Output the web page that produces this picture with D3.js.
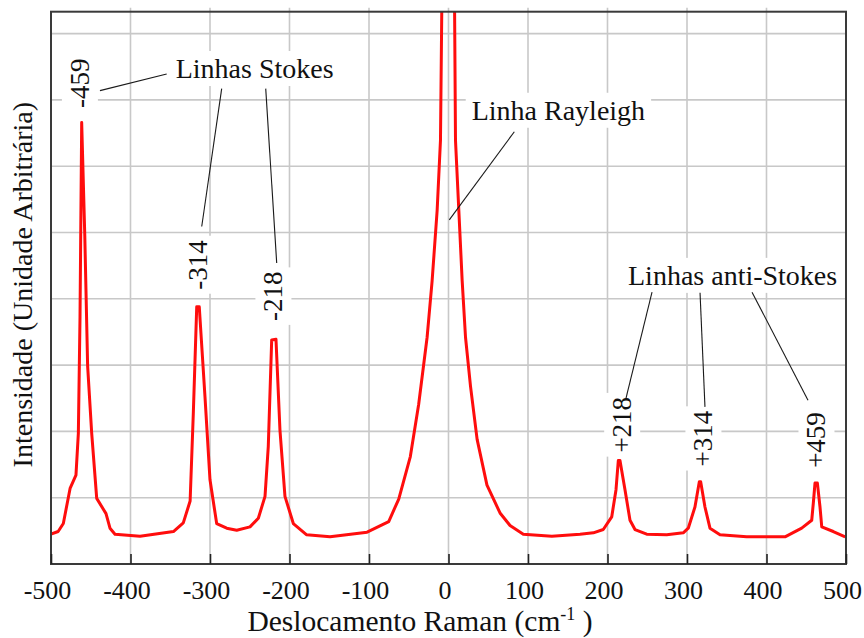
<!DOCTYPE html>
<html>
<head>
<meta charset="utf-8">
<script src="https://cdn.jsdelivr.net/npm/d3@7"></script>
<style>
  html, body { margin: 0; padding: 0; background: #ffffff; }
  svg { display: block; }
  svg text { font-family: "Liberation Serif", "Times New Roman", Tinos, "DejaVu Serif", serif; fill: #111; }
</style>
</head>
<body>
<svg id="chart" width="864" height="638"></svg>
<script>
// Raman spectrum: shift (cm^-1) and intensity (arbitrary units)
const shift = [
  -500, -491, -484.5, -476, -468.6, -465.6, -463.5, -461.4, -457.5, -453.9, -448.8, -442.5,
  -430.8, -425.8, -419.5, -388, -346, -333.6, -325, -321, -316.7, -313.5, -306.3, -300,
  -291.6, -279, -266.4, -249.7, -239.2, -230.8, -226.7, -222.4, -217, -212, -205.7, -195.2,
  -178.4, -149, -102.4, -75.2, -62.6, -48, -37.5, -26.9, -20.6, -14.3, -10.1, -7.5,
  0, 7, 8.8, 13, 17.2, 21.4, 27.7, 36, 48.4, 64.8, 77.4, 94.1,
  130, 165.4, 182.2, 194.7, 205.3, 210.7, 213.6, 215.7, 222, 228.3, 234.6, 249.3,
  274.5, 295.3, 301.6, 310, 315.5, 317.2, 322.6, 328.9, 341.5, 375, 423.3, 444.3,
  456.9, 458.9, 461, 464, 467.3, 469.5, 484, 499
];
const intensity = [
  0.45, 0.49, 0.61, 1.14, 1.34, 1.97, 3.73, 6.66, 4.95, 2.98, 1.97, 0.99,
  0.76, 0.54, 0.45, 0.42, 0.49, 0.62, 0.95, 2.27, 3.88, 3.88, 2.52, 1.27,
  0.61, 0.54, 0.51, 0.56, 0.69, 1.02, 1.77, 3.38, 3.39, 2.02, 1.02, 0.61,
  0.44, 0.41, 0.48, 0.64, 0.98, 1.62, 2.41, 3.42, 4.27, 5.33, 6.39, 9.5,
  14, 9.5, 6.39, 5.33, 4.27, 3.42, 2.68, 1.88, 1.19, 0.77, 0.58, 0.45,
  0.42, 0.45, 0.47, 0.52, 0.71, 1.12, 1.56, 1.56, 1.12, 0.66, 0.52, 0.45,
  0.44, 0.47, 0.54, 0.86, 1.24, 1.24, 0.86, 0.54, 0.44, 0.41, 0.41, 0.54,
  0.66, 0.92, 1.22, 1.22, 0.86, 0.56, 0.49, 0.41
];

const xTicks = [-500, -400, -300, -200, -100, 0, 100, 200, 300, 400, 500];
const xTickLabels = ["-500", "-400", "-300", "-200", "-100", "0", "100", "200", "300", "400", "500"];
const yGrid = [1, 2, 3, 4, 5, 6, 7, 8];

// Peak labels (rotated), placed in data units
const peakText = ["-459", "-314", "-218", "+218", "+314", "+459"];
const peakX = [-464.2, -315.1, -220.8, 217.9, 320.1, 462.3];
const peakY = [7.25, 4.51, 4.04, 2.10, 1.89, 1.87];

// Group captions, anchored at their left baseline (data units)
const captionText = ["Linhas Stokes", "Linha Rayleigh", "Linhas anti-Stokes"];
const captionX = [-343.1, 29.2, 225.8];
const captionY = [7.33, 6.70, 4.21];

// Leader lines from captions to the peak labels (data units)
const leaderX1 = [-354.5, -285.3, -229.9, 82.8, 256, 316.4, 381.8];
const leaderY1 = [7.39, 7.17, 7.17, 6.52, 4.10, 4.09, 4.10];
const leaderX2 = [-438.4, -310.4, -216.1, 1.0, 223.3, 322.6, 452.2];
const leaderY2 = [7.14, 5.09, 4.54, 5.19, 2.50, 2.37, 2.47];

const xTitle = "Deslocamento Raman (cm";
const yTitle = "Intensidade (Unidade Arbitrária)";

const W = 864, H = 638;
const margin = { top: 11.7, right: 18, bottom: 74, left: 51 };
const iw = W - margin.left - margin.right;
const ih = H - margin.top - margin.bottom;

const svg = d3.select("#chart");
const g = svg.append("g").attr("transform", `translate(${margin.left},${margin.top})`);

const x = d3.scaleLinear().domain([-500, 500]).range([0, iw]);
const y = d3.scaleLinear().domain([0, 8.33]).range([ih, 0]);

// grid
const grid = g.append("g");
grid.selectAll("line.v").data(xTicks.slice(1, -1)).join("line")
  .attr("x1", d => x(d)).attr("x2", d => x(d))
  .attr("y1", -4).attr("y2", ih)
  .attr("stroke", "#c8c8c8").attr("stroke-width", 1.6);
grid.selectAll("line.h").data(yGrid).join("line")
  .attr("x1", 0).attr("x2", iw)
  .attr("y1", d => y(d)).attr("y2", d => y(d))
  .attr("stroke", "#c8c8c8").attr("stroke-width", 1.6);

// white label backgrounds sit above the grid
const bgLayer = g.append("g");
const clipId = "plotclip";
svg.append("defs").append("clipPath").attr("id", clipId)
  .append("rect").attr("x", 0).attr("y", 0).attr("width", iw).attr("height", ih);

const series = shift.map((s, i) => [s, intensity[i]]);
g.append("path")
  .datum(series)
  .attr("clip-path", `url(#${clipId})`)
  .attr("fill", "none")
  .attr("stroke", "#ff0d0d")
  .attr("stroke-width", 3)
  .attr("stroke-linejoin", "round")
  .attr("d", d3.line().x(d => x(d[0])).y(d => y(d[1])));

// leader lines
g.append("g").selectAll("line").data(leaderX1).join("line")
  .attr("x1", (d, i) => x(leaderX1[i])).attr("y1", (d, i) => y(leaderY1[i]))
  .attr("x2", (d, i) => x(leaderX2[i])).attr("y2", (d, i) => y(leaderY2[i]))
  .attr("stroke", "#1a1a1a").attr("stroke-width", 1.1);

// captions
const caps = g.append("g").selectAll("text").data(captionText).join("text")
  .attr("x", (d, i) => x(captionX[i])).attr("y", (d, i) => y(captionY[i]))
  .attr("font-size", 28)
  .text(d => d);

// peak labels
const peaks = g.append("g").selectAll("text").data(peakText).join("text")
  .attr("transform", (d, i) => `translate(${x(peakX[i])},${y(peakY[i])}) rotate(-90)`)
  .attr("text-anchor", "middle")
  .attr("dy", "0.35em")
  .attr("font-size", 27)
  .text(d => d);

// white boxes behind labels
function addBox(node, padX, padY) {
  const b = node.getBBox();
  const tr = node.getAttribute("transform");
  bgLayer.append("rect")
    .attr("x", b.x - padX).attr("y", b.y - padY)
    .attr("width", b.width + 2 * padX).attr("height", b.height + 2 * padY)
    .attr("transform", tr)
    .attr("fill", "#ffffff");
}
caps.each(function () { addBox(this, 6, 2); });
peaks.each(function () { addBox(this, 4, 3); });

// frame
g.append("rect").attr("x", 0).attr("y", 0).attr("width", iw).attr("height", ih)
  .attr("fill", "none").attr("stroke", "#3a3a3a").attr("stroke-width", 2);

// bottom axis: ticks point inward
const xAxis = d3.axisBottom(x).tickValues(xTicks)
  .tickFormat((d, i) => xTickLabels[i]).tickSizeInner(-10).tickSizeOuter(0).tickPadding(16.5);
const ax = g.append("g").attr("transform", `translate(0,${ih})`).call(xAxis);
ax.attr("font-family", null);
ax.select(".domain").remove();
ax.selectAll(".tick line").attr("stroke", "#222").attr("stroke-width", 1.6);
ax.selectAll(".tick text").attr("font-size", 26).attr("fill", "#111").attr("x", -4);

// axis titles
const xt = svg.append("text")
  .attr("x", 420).attr("y", 631)
  .attr("text-anchor", "middle").attr("font-size", 29.5);
xt.append("tspan").text(xTitle);
xt.append("tspan").attr("font-size", 18).attr("dy", -11).text("-1");
xt.append("tspan").attr("dy", 11).text(" )");

svg.append("text")
  .attr("transform", `translate(32,${margin.top + 273}) rotate(-90)`)
  .attr("text-anchor", "middle").attr("font-size", 28)
  .text(yTitle);
</script>
</body>
</html>
